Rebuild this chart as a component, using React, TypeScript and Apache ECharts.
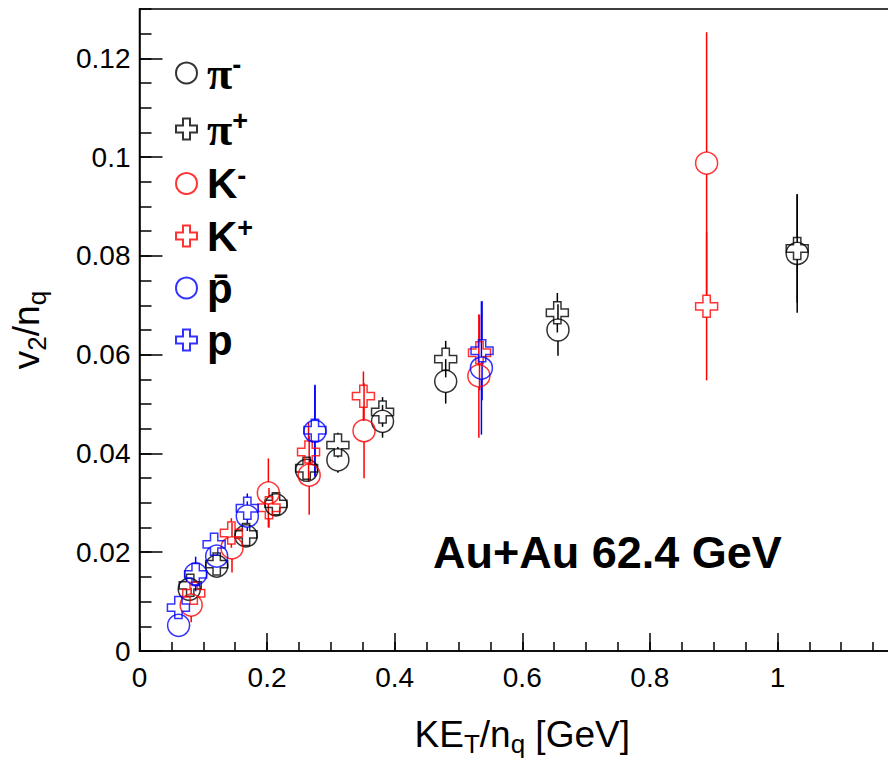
import React, { useEffect, useRef } from "react";
import * as echarts from "echarts";

// ---- data ----
const piMinusX = [0.078, 0.121, 0.167, 0.214, 0.262, 0.311, 0.381, 0.48, 0.656, 1.031];
const piMinusY = [0.0125, 0.0172, 0.0233, 0.0296, 0.0366, 0.0387, 0.0465, 0.0546, 0.065, 0.0805];
const piMinusErr = [0.0008, 0.001, 0.0012, 0.0015, 0.002, 0.0026, 0.0033, 0.0045, 0.0052, 0.012];

const piPlusX = [0.0795, 0.121, 0.167, 0.214, 0.262, 0.311, 0.381, 0.48, 0.655, 1.031];
const piPlusY = [0.0133, 0.0176, 0.0236, 0.0298, 0.037, 0.0417, 0.0484, 0.0591, 0.0685, 0.0815];
const piPlusErr = [0.0008, 0.001, 0.0012, 0.0015, 0.002, 0.0025, 0.003, 0.0037, 0.004, 0.011];

const kMinusX = [0.081, 0.145, 0.202, 0.266, 0.352, 0.532, 0.889];
const kMinusY = [0.0093, 0.0209, 0.032, 0.0356, 0.0446, 0.0557, 0.0988];
const kMinusErr = [0.0035, 0.005, 0.007, 0.008, 0.0096, 0.0125, 0.0265];

const kPlusX = [0.085, 0.144, 0.203, 0.265, 0.351, 0.533, 0.889];
const kPlusY = [0.0117, 0.0239, 0.029, 0.0403, 0.0516, 0.0604, 0.0698];
const kPlusErr = [0.0015, 0.003, 0.004, 0.006, 0.005, 0.0076, 0.015];

const pbarX = [0.0613, 0.088, 0.121, 0.169, 0.275, 0.536];
const pbarY = [0.0052, 0.0156, 0.0192, 0.0273, 0.0445, 0.0573];
const pbarErr = [0.001, 0.0035, 0.002, 0.003, 0.0092, 0.0135];

const pX = [0.061, 0.088, 0.117, 0.169, 0.275, 0.537];
const pY = [0.0088, 0.0155, 0.0216, 0.0289, 0.0447, 0.0608];
const pErr = [0.001, 0.0025, 0.002, 0.003, 0.0092, 0.01];

const xTicksMajor = 0.2;
const xTicksMinor = 0.05;
const yTicksMajor = 0.02;
const yTicksMinor = 0.005;

const CROSS = "path://M1,0L2,0L2,1L3,1L3,2L2,2L2,3L1,3L1,2L0,2L0,1L1,1Z";

const groups = [
  { name: "π-", label: "{g|π}{sup|-}", xs: piMinusX, ys: piMinusY, es: piMinusErr, color: "#000000", symbol: "circle" },
  { name: "π+", label: "{g|π}{sup|+}", xs: piPlusX, ys: piPlusY, es: piPlusErr, color: "#000000", symbol: CROSS },
  { name: "K-", label: "{s|K}{sup|-}", xs: kMinusX, ys: kMinusY, es: kMinusErr, color: "#ff0000", symbol: "circle" },
  { name: "K+", label: "{s|K}{sup|+}", xs: kPlusX, ys: kPlusY, es: kPlusErr, color: "#ff0000", symbol: CROSS },
  { name: "p̄", label: "{s|p̄}", xs: pbarX, ys: pbarY, es: pbarErr, color: "#0000ff", symbol: "circle" },
  { name: "p", label: "{s|p}", xs: pX, ys: pY, es: pErr, color: "#0000ff", symbol: CROSS },
];

const MARKER = 22;

export default function App() {
  const ref = useRef<HTMLDivElement>(null);

  useEffect(() => {
    if (!ref.current) return;
    const chart = echarts.init(ref.current, undefined, { renderer: "svg" });

    const series: any[] = [];
    groups.forEach((g) => {
      const pts = g.xs.map((x, i) => [x, g.ys[i], g.es[i]]);
      series.push({
        name: g.name + " err",
        type: "custom",
        xAxisIndex: 0,
        yAxisIndex: 0,
        data: pts,
        encode: { x: 0, y: 1 },
        z: 2,
        silent: true,
        renderItem: (params: any, api: any) => {
          const x = api.value(0);
          const y = api.value(1);
          const e = api.value(2);
          const c = api.coord([x, y]);
          const top = api.coord([x, y + e]);
          const bot = api.coord([x, y - e]);
          const r = MARKER / 2;
          const children: any[] = [];
          const st = { stroke: g.color, lineWidth: 1.5 };
          if (top[1] < c[1] - r) {
            children.push({ type: "line", shape: { x1: c[0], y1: top[1], x2: c[0], y2: c[1] - r }, style: st });
          }
          if (bot[1] > c[1] + r) {
            children.push({ type: "line", shape: { x1: c[0], y1: c[1] + r, x2: c[0], y2: bot[1] }, style: st });
          }
          return { type: "group", children };
        },
      });
      series.push({
        name: g.name,
        type: "scatter",
        xAxisIndex: 0,
        yAxisIndex: 0,
        data: pts.map((p) => [p[0], p[1]]),
        symbol: g.symbol,
        symbolSize: MARKER,
        z: 3,
        itemStyle: { color: "rgba(0,0,0,0)", borderColor: g.color, borderWidth: 1.5 },
      });
    });

    const labelMap: Record<string, string> = {};
    groups.forEach((g) => (labelMap[g.name] = g.label));

    const option: any = {
      animation: false,
      backgroundColor: "#ffffff",
      grid: {
        left: 137,
        right: 25,
        top: 9,
        bottom: 108,
        show: true,
        borderColor: "#000",
        borderWidth: 1.5,
        backgroundColor: "rgba(0,0,0,0)",
      },
      legend: {
        data: groups.map((g) => g.name),
        orient: "vertical",
        left: 170,
        top: 45,
        itemWidth: 21,
        itemHeight: 21,
        itemGap: 10,
        selectedMode: false,
        formatter: (name: string) => labelMap[name],
        textStyle: {
          padding: [0, 0, 0, 5],
          rich: {
            g: { fontFamily: "Liberation Serif", fontWeight: "bold", fontSize: 46, lineHeight: 43, color: "#000" },
            s: { fontFamily: "Liberation Sans", fontWeight: "bold", fontSize: 42, lineHeight: 43, color: "#000" },
            sup: { fontFamily: "Liberation Sans", fontWeight: "bold", fontSize: 27, lineHeight: 26, verticalAlign: "top", color: "#000" },
          },
        },
      },
      xAxis: [
        {
          type: "value",
          min: 0,
          max: 1.2,
          interval: xTicksMajor,
          position: "bottom",
          name: "KE{sub|T}/n{sub|q} [GeV]",
          nameLocation: "middle",
          nameGap: 60,
          nameTextStyle: {
            fontFamily: "Liberation Sans",
            fontSize: 37,
            color: "#000",
            rich: {
              sub: { fontFamily: "Liberation Sans", fontSize: 26, verticalAlign: "bottom", lineHeight: 46, color: "#000" },
            },
          },
          axisLine: { show: true, lineStyle: { color: "#000", width: 1.5 } },
          axisTick: { show: true, inside: true, length: 18, lineStyle: { color: "#000", width: 1.5 } },
          axisLabel: {
            fontFamily: "Liberation Sans",
            fontSize: 28,
            color: "#000",
            margin: 12,
            showMaxLabel: false,
            formatter: (v: number) => String(Math.round(v * 10) / 10),
          },
          splitLine: { show: false },
        },
        {
          type: "value",
          min: 0,
          max: 1.2,
          interval: xTicksMinor,
          position: "bottom",
          axisLine: { show: false },
          axisTick: { show: true, inside: true, length: 9, lineStyle: { color: "#000", width: 1.5 } },
          axisLabel: { show: false },
          splitLine: { show: false },
        },
      ],
      yAxis: [
        {
          type: "value",
          min: 0,
          max: 0.13,
          interval: yTicksMajor,
          position: "left",
          name: "v{sub|2}/n{sub|q}",
          nameLocation: "middle",
          nameRotate: 90,
          nameGap: 90,
          nameTextStyle: {
            fontFamily: "Liberation Sans",
            fontSize: 37,
            color: "#000",
            rich: {
              sub: { fontFamily: "Liberation Sans", fontSize: 26, verticalAlign: "bottom", lineHeight: 46, color: "#000" },
            },
          },
          axisLine: { show: true, lineStyle: { color: "#000", width: 1.5 } },
          axisTick: { show: true, inside: true, length: 23, lineStyle: { color: "#000", width: 1.5 } },
          axisLabel: {
            fontFamily: "Liberation Sans",
            fontSize: 28,
            color: "#000",
            margin: 9,
            showMaxLabel: false,
            formatter: (v: number) => String(Math.round(v * 100) / 100),
          },
          splitLine: { show: false },
        },
        {
          type: "value",
          min: 0,
          max: 0.13,
          interval: yTicksMinor,
          position: "left",
          axisLine: { show: false },
          axisTick: { show: true, inside: true, length: 12, lineStyle: { color: "#000", width: 1.5 } },
          axisLabel: { show: false },
          splitLine: { show: false },
        },
      ],
      graphic: [
        {
          type: "text",
          left: 433,
          top: 530,
          style: {
            text: "Au+Au 62.4 GeV",
            font: "bold 45px 'Liberation Sans'",
            fill: "#000",
          },
        },
      ],
      series,
    };

    chart.setOption(option);
    return () => chart.dispose();
  }, []);

  return (
    <div
      style={{
        position: "fixed",
        left: 0,
        top: 0,
        width: 888,
        height: 762,
        overflow: "hidden",
        background: "#fff",
      }}
    >
      <div ref={ref} style={{ width: 930, height: 762 }} />
    </div>
  );
}
